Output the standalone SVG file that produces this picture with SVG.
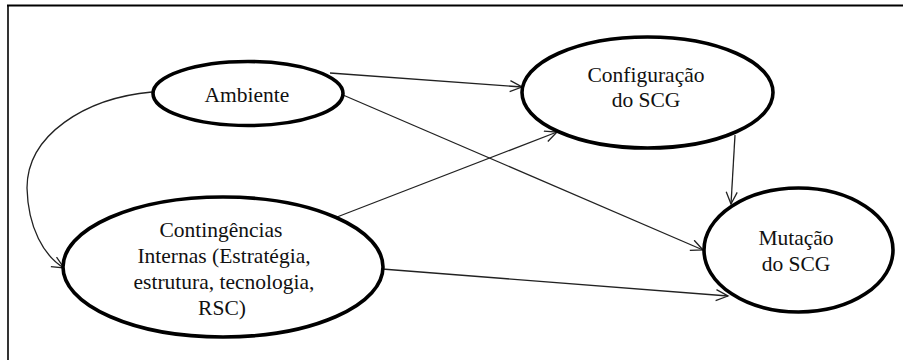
<svg xmlns="http://www.w3.org/2000/svg" width="903" height="360" viewBox="0 0 903 360">
<style>
.node ellipse{fill:#fff;stroke:#000;stroke-width:3.6}
.node text{font-family:"Liberation Serif","Times New Roman",serif;font-size:21.5px;fill:#111;text-anchor:middle}
.edge{fill:none;stroke:#222;stroke-width:1.3;marker-end:url(#arr)}
</style>
<defs>
<marker id="arr" markerUnits="userSpaceOnUse" markerWidth="16" markerHeight="14" refX="13" refY="6" orient="auto">
<path d="M1,0.5 L13,6 L1,11.5" fill="none" stroke="#222" stroke-width="1.3"/>
</marker>
</defs>
<rect width="903" height="360" fill="#fff"/>
<g id="frame" stroke="#000" fill="none">
<line x1="7" y1="5.5" x2="903" y2="5.5" stroke-width="2"/>
<line x1="8" y1="5" x2="8" y2="360" stroke-width="1.6"/>
</g>
<g id="connectors">
<path class="edge" d="M330,73 L522,87"/>
<path class="edge" d="M343,95 L703,250"/>
<path class="edge" d="M337,217 L557,132"/>
<path class="edge" d="M382,269 L728,296"/>
<path class="edge" d="M735,135 L731,204"/>
<path class="edge" d="M152,92 C85,98 27,135 27,188 C28,228 44,256 64,268"/>
</g>
<g id="ambiente" class="node">
<ellipse cx="248" cy="93.5" rx="95" ry="32"/>
<text x="247" y="102">Ambiente</text>
</g>
<g id="configuracao" class="node">
<ellipse cx="647.5" cy="92.5" rx="125.5" ry="55.5"/>
<text x="646" y="82">Configuração</text>
<text x="646" y="107">do SCG</text>
</g>
<g id="contingencias" class="node">
<ellipse cx="223" cy="267" rx="160" ry="70"/>
<text x="221" y="237">Contingências</text>
<text x="224" y="263">Internas (Estratégia,</text>
<text x="224" y="289">estrutura, tecnologia,</text>
<text x="222" y="315">RSC)</text>
</g>
<g id="mutacao" class="node">
<ellipse cx="798.5" cy="250" rx="94.5" ry="62"/>
<text x="796" y="245">Mutação</text>
<text x="796" y="271">do SCG</text>
</g>
</svg>
